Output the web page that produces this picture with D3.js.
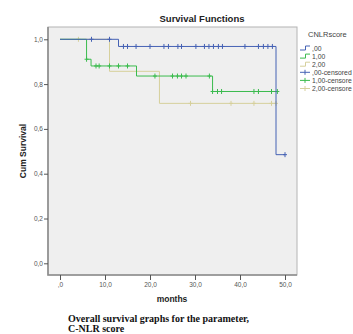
<!DOCTYPE html>
<html>
<head>
<meta charset="utf-8">
<script src="https://cdn.jsdelivr.net/npm/d3@7"></script>
<style>
  body { margin: 0; background: #fff; }
  text { font-family: "Liberation Sans", Arial, sans-serif; }
</style>
</head>
<body>
<svg id="chart" width="353" height="334"></svg>
<script>
// step curves: [month, cum survival]
var curve0 = [[0, 1], [13.0, 0.968], [48.0, 0.485], [50.0, 0.485]];
var curve1 = [[0, 1], [5.9, 0.911], [6.9, 0.881], [17.0, 0.836], [33.9, 0.767], [48.3, 0.767]];
var curve2 = [[0, 1], [11.0, 0.857], [22.1, 0.714], [48.0, 0.714]];

// censored times
var cens0 = [7.0, 11.0, 14.1, 15.0, 16.9, 20.0, 23.1, 24.1, 26.2, 27.0, 30.2, 32.1, 33.1, 34.1,
  35.2, 36.1, 41.1, 44.1, 45.2, 46.2, 47.2, 50.0];
var cens1 = [5.9, 8.0, 8.7, 11.0, 13.0, 15.0, 21.1, 25.0, 26.1, 27.0, 28.0, 33.2, 33.9, 35.0,
  35.9, 43.1, 44.1, 47.0, 48.3];
var cens2 = [4.1, 29.0, 38.0, 43.1, 47.0, 48.0];

var legendLabels = [',00', '1,00', '2,00', ',00-censored', '1,00-censore', '2,00-censore'];
var xTicks = [0, 10, 20, 30, 40, 50];
var yTicks = [0, 0.2, 0.4, 0.6, 0.8, 1.0];
var colors = ['#4562b4', '#3bbb4e', '#d6d09c'];

var curves = [curve0, curve1, curve2];
var censored = [cens0, cens1, cens2];

var svg = d3.select('#chart');

var frame = { left: 48, right: 297, top: 27, bottom: 275 };

var x = d3.scaleLinear().domain([0, 50]).range([60, 285]);
var y = d3.scaleLinear().domain([0, 1]).range([263.3, 39.3]);

function comma(d) {
  return d3.format('.1f')(d).replace('.', ',');
}

// plot background
svg.append('rect')
  .attr('x', frame.left)
  .attr('y', frame.top)
  .attr('width', frame.right - frame.left)
  .attr('height', frame.bottom - frame.top)
  .attr('fill', '#efefef')
  .attr('stroke', '#b4b4b4')
  .attr('stroke-width', 1);

// darker left / bottom edges
svg.append('path')
  .attr('d', 'M' + frame.left + ',' + frame.top + 'V' + frame.bottom + 'H' + frame.right)
  .attr('fill', 'none')
  .attr('stroke', '#8c8c8c')
  .attr('stroke-width', 1.6);

// y axis
var yAxis = d3.axisLeft(y)
  .tickValues(yTicks)
  .tickSize(4)
  .tickSizeOuter(0)
  .tickFormat(comma);
var gy = svg.append('g')
  .attr('transform', 'translate(' + frame.left + ',0)')
  .call(yAxis);
gy.select('.domain').remove();
gy.selectAll('line').attr('stroke', '#555');
gy.selectAll('text')
  .attr('x', -5)
  .attr('fill', '#555')
  .style('font-size', '6.5px');

// x axis
var xAxis = d3.axisBottom(x)
  .tickValues(xTicks)
  .tickSize(5)
  .tickSizeOuter(0)
  .tickFormat(function(d) {
    return d === 0 ? ',0' : comma(d);
  });
var gx = svg.append('g')
  .attr('transform', 'translate(0,' + frame.bottom + ')')
  .call(xAxis);
gx.select('.domain').remove();
gx.selectAll('line').attr('stroke', '#555');
gx.selectAll('text')
  .attr('y', 7)
  .attr('fill', '#555')
  .style('font-size', '6.5px');

// curves
var stepLine = d3.line()
  .x(function(d) { return x(d[0]); })
  .y(function(d) { return y(d[1]); })
  .curve(d3.curveStepAfter);

function survAt(curve, t) {
  var s = curve[0][1];
  curve.forEach(function(p) { if (p[0] <= t) s = p[1]; });
  return s;
}

// draw in reverse so blue sits on top
[2, 1, 0].forEach(function(i) {
  svg.append('path')
    .datum(curves[i])
    .attr('d', stepLine)
    .attr('fill', 'none')
    .attr('stroke', colors[i])
    .attr('stroke-width', 1);

  svg.append('g')
    .selectAll('path')
    .data(censored[i])
    .enter()
    .append('path')
    .attr('d', function(t) {
      var cx = x(t), cy = y(survAt(curves[i], t));
      return 'M' + cx + ',' + (cy - 2.5) + 'V' + (cy + 2.5) +
        'M' + (cx - 2) + ',' + cy + 'H' + (cx + 2);
    })
    .attr('stroke', colors[i])
    .attr('stroke-width', 1);
});

// titles
svg.append('text')
  .attr('x', 202)
  .attr('y', 22)
  .attr('text-anchor', 'middle')
  .style('font-size', '9.5px')
  .style('font-weight', 'bold')
  .attr('fill', '#222')
  .text('Survival Functions');

svg.append('text')
  .attr('transform', 'translate(26,151) rotate(-90)')
  .attr('text-anchor', 'middle')
  .style('font-size', '8.5px')
  .style('font-weight', 'bold')
  .attr('fill', '#222')
  .text('Cum Survival');

svg.append('text')
  .attr('x', 172)
  .attr('y', 302)
  .attr('text-anchor', 'middle')
  .style('font-size', '8.5px')
  .style('font-weight', 'bold')
  .attr('fill', '#222')
  .text('months');

// legend
svg.append('text')
  .attr('x', 308)
  .attr('y', 37)
  .style('font-size', '7.5px')
  .attr('fill', '#444')
  .text('CNLRscore');

var legendY = d3.scaleLinear().domain([0, 5]).range([48, 88.5]);
var lg = svg.append('g');
legendLabels.forEach(function(lab, i) {
  var ly = legendY(i), c = colors[i % 3];
  if (i < 3) {
    lg.append('path')
      .attr('d', 'M300,' + (ly + 2) + 'H305.5V' + (ly - 2) + 'H310')
      .attr('fill', 'none')
      .attr('stroke', c)
      .attr('stroke-width', 1);
  } else {
    lg.append('path')
      .attr('d', 'M300,' + ly + 'H310M305,' + (ly - 2.5) + 'V' + (ly + 2.5))
      .attr('stroke', c)
      .attr('stroke-width', 1);
  }
  lg.append('text')
    .attr('x', 312)
    .attr('y', ly + 2.5)
    .style('font-size', '6.8px')
    .attr('fill', '#444')
    .text(lab);
});

// caption
var cap = svg.append('text')
  .style('font-family', '"Liberation Serif", "Times New Roman", serif')
  .style('font-size', '10px')
  .style('font-weight', 'bold')
  .attr('fill', '#111');
cap.append('tspan').attr('x', 68).attr('y', 322).text('Overall survival graphs for the parameter,');
cap.append('tspan').attr('x', 68).attr('y', 332).text('C-NLR score');
</script>
</body>
</html>
